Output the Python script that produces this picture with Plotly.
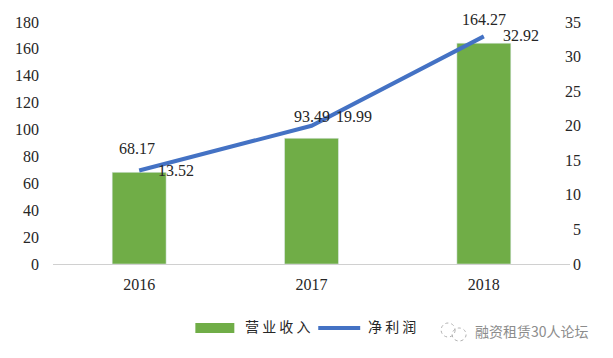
import plotly.graph_objects as go

years = ["2016", "2017", "2018"]
revenue = [68.17, 93.49, 164.27]
profit = [13.52, 19.99, 32.92]
rev_labels = ["68.17", "93.49", "164.27"]
prof_labels = ["13.52", "19.99", "32.92"]
left_ticks = [0, 20, 40, 60, 80, 100, 120, 140, 160, 180]
right_ticks = [0, 5, 10, 15, 20, 25, 30, 35]
right_text = ["\u2002" + str(v) if v < 10 else str(v) for v in right_ticks]
rev_shift = [(-2, 13), (0, 11), (0, 13)]
prof_shift = [(37, 0), (42, 9), (37, 1)]
FONT = "Liberation Serif, serif"
CJK = "Noto Sans CJK SC"
INK = "#262626"

fig = go.Figure()
fig.add_bar(x=years, y=revenue, marker_color="#70ad47", width=0.313, showlegend=False)
fig.add_scatter(x=years, y=profit, yaxis="y2", mode="lines", showlegend=False,
                line=dict(color="#4472c4", width=4))

ann = []
for i, (v, t, (dx, dy)) in enumerate(zip(revenue, rev_labels, rev_shift)):
    ann.append(dict(x=i, y=v, text=t, xshift=dx, yshift=dy, yanchor="bottom", showarrow=False,
                    font=dict(family=FONT, size=16, color=INK)))
for i, (v, t, (dx, dy)) in enumerate(zip(profit, prof_labels, prof_shift)):
    ann.append(dict(x=i, y=v, yref="y2", text=t, xshift=dx, yshift=dy, yanchor="middle", showarrow=False,
                    font=dict(family=FONT, size=16, color=INK)))

def page_x(px):
    return (px - 52.5) / 517.5
def page_y(py):
    return (264 - py) / 242

ann += [
    dict(x=page_x(243), y=page_y(326), xref="paper", yref="paper", xanchor="left", yanchor="middle",
         text="营 业 收 入", showarrow=False, font=dict(family=CJK, size=14, color=INK)),
    dict(x=page_x(366), y=page_y(326), xref="paper", yref="paper", xanchor="left", yanchor="middle",
         text="净 利 润", showarrow=False, font=dict(family=CJK, size=14, color=INK)),
    dict(x=page_x(473), y=page_y(331), xref="paper", yref="paper", xanchor="left", yanchor="middle",
         text="融资租赁30人论坛", showarrow=False, font=dict(family=CJK, size=14, color="#8c8c8c")),
]
shapes = [
    dict(type="rect", xref="paper", yref="paper", x0=page_x(195), x1=page_x(234), y0=page_y(333), y1=page_y(323),
         fillcolor="#70ad47", line_width=0),
    dict(type="line", xref="paper", yref="paper", x0=page_x(318), x1=page_x(360), y0=page_y(328), y1=page_y(328),
         line=dict(color="#4472c4", width=4)),
    dict(type="circle", xref="paper", yref="paper", x0=page_x(441), x1=page_x(455), y0=page_y(337), y1=page_y(323),
         line=dict(color="#b0b0b0", width=1, dash="dot")),
    dict(type="circle", xref="paper", yref="paper", x0=page_x(452), x1=page_x(466), y0=page_y(341), y1=page_y(328),
         line=dict(color="#b0b0b0", width=1, dash="dot")),
]

fig.update_layout(
    width=605, height=350, paper_bgcolor="white", plot_bgcolor="white",
    margin=dict(l=44.5, r=43, t=14, b=94),
    font=dict(family=FONT, size=16, color=INK),
    xaxis=dict(type="category", range=[-0.5, 2.5], automargin=False, showline=True, linecolor="#d0d0d0", ticks="", showgrid=False, ticklabelstandoff=6),
    yaxis=dict(range=[0, 180], automargin=False, tickvals=left_ticks, showgrid=False, zeroline=False, ticks="", ticklabelstandoff=13),
    yaxis2=dict(range=[0, 35], automargin=False, tickvals=right_ticks, ticktext=right_text, overlaying="y", side="right",
                showgrid=False, zeroline=False, ticks="", ticklabelstandoff=-6),
    annotations=ann, shapes=shapes, showlegend=False,
)
fig.write_html("out.html")
